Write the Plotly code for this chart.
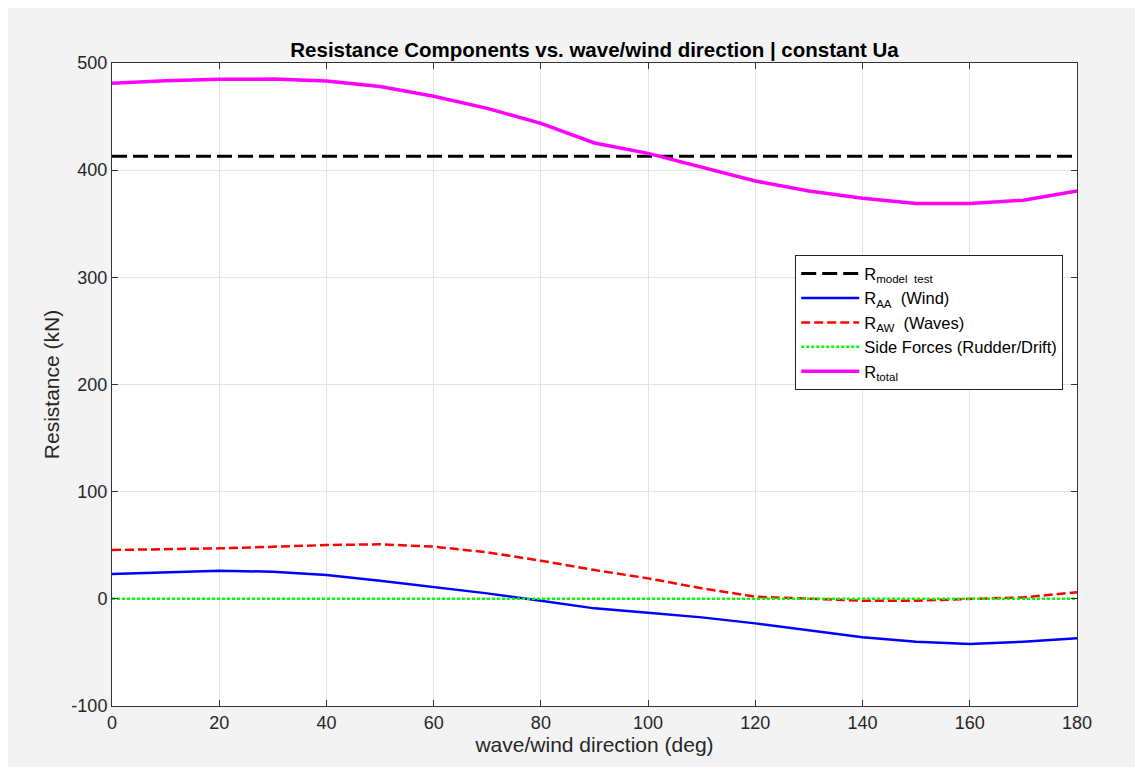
import plotly.graph_objects as go

direction = [0, 10, 20, 30, 40, 50, 60, 70, 80, 90, 100, 110, 120, 130, 140, 150, 160, 170, 180]
r_model_test = 413
r_aa = [23.2, 25.0, 26.3, 25.3, 22.2, 16.9, 11.3, 5.1, -1.8, -8.9, -13.0, -17.3, -22.9, -29.7, -35.9, -40.0, -42.2, -40.0, -36.8]
r_aw = [45.6, 46.3, 47.1, 48.6, 50.2, 50.9, 48.7, 43.4, 35.6, 26.9, 19.1, 9.8, 2.0, 0.1, -1.7, -1.7, -0.5, 1.4, 6.1]
side_forces = [0.0] * len(direction)
r_total = [481.0, 483.5, 484.8, 485.0, 483.2, 478.0, 469.0, 457.7, 443.6, 425.4, 415.7, 403.0, 389.9, 380.6, 373.7, 369.0, 369.0, 372.0, 380.6]

x_ticks = list(range(0, 181, 20))
y_ticks = list(range(-100, 501, 100))
y_ticktext = [str(v) for v in y_ticks]

FONT = "Liberation Sans, Arial, sans-serif"
TXT = "#262626"

fig = go.Figure()
fig.add_trace(go.Scatter(x=[direction[0], direction[-1]], y=[r_model_test, r_model_test], mode="lines",
                         line=dict(color="black", width=3, dash="15px,6px"),
                         name="R<sub>model  test</sub>"))
fig.add_trace(go.Scatter(x=direction, y=r_aa, mode="lines",
                         line=dict(color="#0000ff", width=2.5),
                         name="R<sub>AA</sub>  (Wind)"))
fig.add_trace(go.Scatter(x=direction, y=r_aw, mode="lines",
                         line=dict(color="#ff0000", width=2.5, dash="9px,4px"),
                         name="R<sub>AW</sub>  (Waves)"))
fig.add_trace(go.Scatter(x=direction, y=side_forces, mode="lines",
                         line=dict(color="#00ff00", width=2.5, dash="3px,2px"),
                         name="Side Forces (Rudder/Drift)"))
fig.add_trace(go.Scatter(x=direction, y=r_total, mode="lines",
                         line=dict(color="#ff00ff", width=3.5),
                         name="R<sub>total</sub>"))

axis_common = dict(showline=True, linecolor="#333333", linewidth=1, mirror="ticks",
                   ticks="inside", ticklen=6, tickcolor="#333333",
                   showgrid=True, gridcolor="#e3e3e3", gridwidth=1, zeroline=False,
                   tickfont=dict(family=FONT, size=18, color=TXT))

fig.update_layout(
    width=1135, height=759,
    margin=dict(l=104, r=66, t=55, b=61),
    paper_bgcolor="#f3f3f3", plot_bgcolor="white",
    font=dict(family=FONT, size=17, color=TXT),
    title=dict(text="<b>Resistance Components vs. wave/wind direction | constant Ua</b>",
               x=0.5, xanchor="center", xref="paper", y=1, yref="paper", yanchor="bottom",
               pad=dict(b=6), font=dict(family=FONT, size=20.5, color="black")),
    xaxis=dict(range=[0, 180], tickvals=x_ticks,
               title=dict(text="wave/wind direction (deg)", standoff=3,
                          font=dict(family=FONT, size=21, color=TXT)),
               **axis_common),
    yaxis=dict(range=[-100, 500], tickvals=y_ticks, ticktext=y_ticktext,
               title=dict(text="Resistance (kN)", standoff=6,
                          font=dict(family=FONT, size=21, color=TXT)),
               **axis_common),
    legend=dict(x=0.708, y=0.701, xanchor="left", yanchor="top",
                bgcolor="white", bordercolor="#222222", borderwidth=1,
                font=dict(family=FONT, size=16.5, color="black"),
                itemwidth=58, tracegroupgap=0),
    showlegend=True,
)

fig.write_html("out.html")
